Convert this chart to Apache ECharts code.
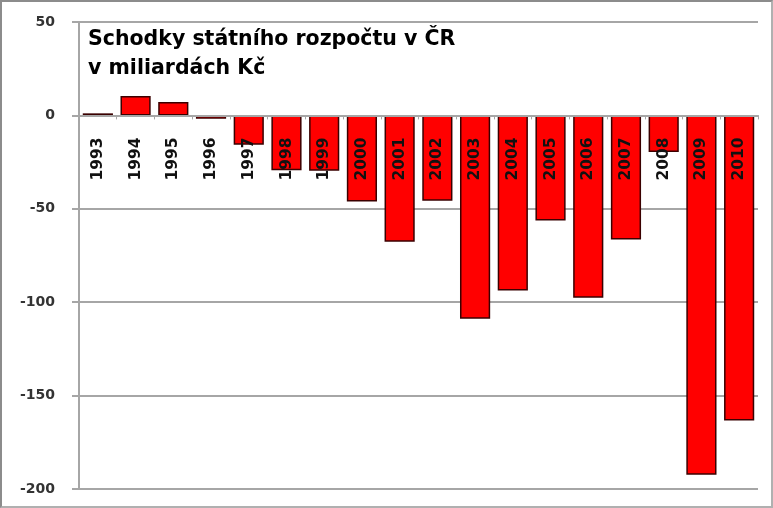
<!DOCTYPE html>
<html>
<head>
<meta charset="utf-8">
<script src="https://cdn.jsdelivr.net/npm/echarts@6/dist/echarts.min.js"></script>
<style>
  html, body { margin: 0; padding: 0; background: #fff; }
  #wrap { position: relative; width: 773px; height: 508px; overflow: hidden; }
  #chart { position: absolute; left: 0; top: 0; width: 773px; height: 508px; }
  #frame { position: absolute; left: 0; top: 0; width: 773px; height: 508px; box-sizing: border-box;
           border: 2px solid #8c8c8c; border-right-color: #b0b0b0; border-bottom-color: #b0b0b0; pointer-events: none; }
</style>
</head>
<body>
<div id="wrap"><div id="chart"></div><div id="frame"></div></div>
<script>
const titleLines = ['Schodky státního rozpočtu v ČR', 'v miliardách Kč'];
const years = ['1993','1994','1995','1996','1997','1998','1999','2000','2001','2002','2003','2004','2005','2006','2007','2008','2009','2010'];
const balance = [1.1, 10.4, 7.2, -1.8, -15.7, -29.3, -29.6, -46.1, -67.7, -45.7, -108.9, -93.7, -56.3, -97.6, -66.4, -19.6, -192.4, -163.3];
const yMin = -200, yMax = 50, yStep = 50;

const H = 508, gridTop = 22, gridBottom = 19;
const plotH = H - gridTop - gridBottom;
// distance from bottom of plot to the zero line
const zeroOffset = plotH * (0 - yMin) / (yMax - yMin);

const chart = echarts.init(document.getElementById('chart'), null, { renderer: 'canvas' });
chart.setOption({
  animation: false,
  backgroundColor: '#ffffff',
  title: {
    text: titleLines.join('\n'),
    left: 88, top: 25, padding: 0,
    textStyle: { fontFamily: 'DejaVu Sans', fontWeight: 'bold', fontSize: 20.5, lineHeight: 29, color: '#000' }
  },
  grid: { left: 79, right: 15, top: gridTop, bottom: gridBottom, containLabel: false, outerBoundsMode: 'none' },
  xAxis: {
    type: 'category',
    data: years,
    z: 10,
    position: 'bottom',
    offset: -zeroOffset,
    axisLine: { onZero: false, lineStyle: { color: '#a6a6a6', width: 2 } },
    axisTick: { show: true, length: 4, lineStyle: { color: '#a6a6a6', width: 1 } },
    axisLabel: {
      show: true, rotate: 90, margin: 22, interval: 0, hideOverlap: false,
      fontFamily: 'DejaVu Sans', fontWeight: 'bold', fontSize: 15.5, color: '#111'
    },
    splitLine: { show: false }
  },
  yAxis: {
    type: 'value',
    min: yMin, max: yMax, interval: yStep,
    axisLine: { show: true, lineStyle: { color: '#a6a6a6', width: 2 } },
    axisTick: { show: true, length: 7, lineStyle: { color: '#a6a6a6', width: 2 } },
    axisLabel: { margin: 24, fontFamily: 'DejaVu Sans', fontWeight: 'bold', fontSize: 14, color: '#333' },
    splitLine: { show: true, lineStyle: { color: '#a6a6a6', width: 2 } }
  },
  series: [{
    type: 'bar',
    data: balance,
    barCategoryGap: '20%',
    itemStyle: { color: '#ff0000', borderColor: '#3a0000', borderWidth: 1.5 }
  }]
});
</script>
</body>
</html>
